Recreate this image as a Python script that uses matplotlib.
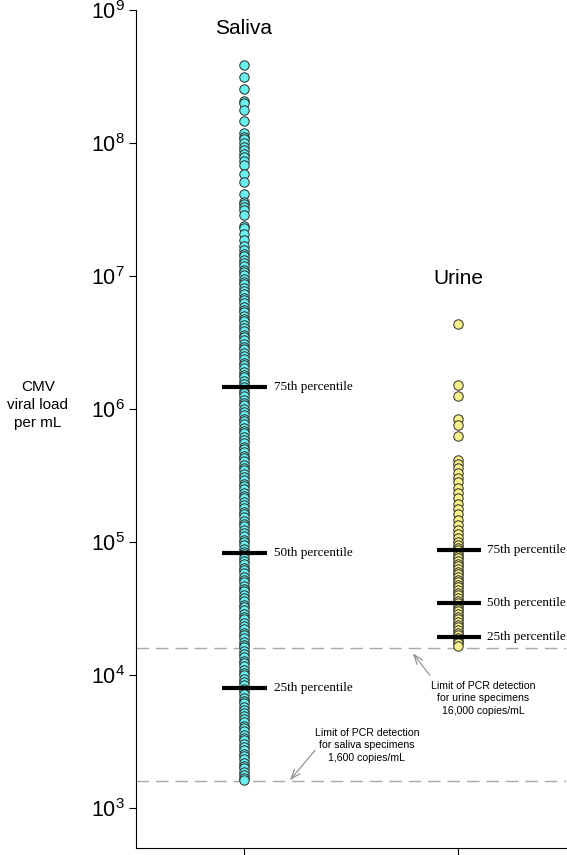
import numpy as np
import matplotlib
matplotlib.use("Agg")
import matplotlib.pyplot as plt

plt.rcParams['font.family'] = ['Liberation Sans', 'DejaVu Sans']

# log10 of viral load per mL
saliva_log = [
    8.59, 8.50, 8.41, 8.32, 8.30, 8.25, 8.17, 8.08, 8.05, 8.03, 8.00, 7.97,
    7.95, 7.92, 7.90, 7.87, 7.84, 7.77, 7.71, 7.62, 7.56, 7.54, 7.52, 7.50,
    7.46, 7.38, 7.36, 7.32, 7.27, 7.23, 7.20,
    7.17, 7.15, 7.12, 7.10, 7.08, 7.05, 7.03, 7.01, 6.98, 6.96, 6.94, 6.91,
    6.89, 6.87, 6.84, 6.82, 6.80, 6.77, 6.75, 6.73, 6.70, 6.68, 6.66, 6.63,
    6.61, 6.59, 6.56, 6.54, 6.52, 6.49, 6.47, 6.45, 6.42, 6.40, 6.38, 6.35,
    6.33, 6.31, 6.28, 6.26, 6.24, 6.21, 6.19, 6.17, 6.14, 6.12, 6.10, 6.07,
    6.05, 6.03, 6.00, 5.98, 5.96, 5.93, 5.91, 5.89, 5.86, 5.84, 5.82, 5.79,
    5.77, 5.75, 5.72, 5.70, 5.68, 5.65, 5.63, 5.61, 5.58, 5.56, 5.54, 5.51,
    5.49, 5.47, 5.44, 5.42, 5.40, 5.37, 5.35, 5.33, 5.30, 5.28, 5.26, 5.23,
    5.21, 5.19, 5.16, 5.14, 5.12, 5.09, 5.07, 5.05, 5.02, 5.00, 4.98, 4.95,
    4.93, 4.91, 4.88, 4.86, 4.84, 4.81, 4.79, 4.77, 4.74, 4.72, 4.70, 4.67,
    4.65, 4.63, 4.60, 4.58, 4.56, 4.53, 4.51, 4.49, 4.46, 4.44, 4.42, 4.39,
    4.37, 4.35, 4.32, 4.30, 4.28, 4.25, 4.23, 4.21, 4.18, 4.16, 4.14, 4.11,
    4.09, 4.07, 4.04, 4.02, 4.00, 3.97, 3.95, 3.93, 3.90, 3.88, 3.86, 3.83,
    3.81, 3.79, 3.76, 3.74, 3.72, 3.69, 3.67, 3.65, 3.62, 3.60, 3.58, 3.55,
    3.53, 3.51, 3.48, 3.46, 3.44, 3.41, 3.39, 3.37, 3.34, 3.32, 3.30, 3.27,
    3.25, 3.23, 3.21,
]
urine_log = [
    6.64, 6.18, 6.10, 5.93, 5.88, 5.80, 5.62, 5.59,
    5.56, 5.52, 5.48, 5.45, 5.41, 5.37, 5.33, 5.29, 5.25, 5.21, 5.17, 5.13,
    5.09, 5.06, 5.03, 5.00, 4.98, 4.96, 4.94, 4.92, 4.90, 4.88, 4.86, 4.84,
    4.82, 4.80, 4.78, 4.76, 4.74, 4.72, 4.70, 4.68, 4.66, 4.64, 4.62, 4.60,
    4.58, 4.56, 4.54, 4.52, 4.50, 4.48, 4.46, 4.44, 4.42, 4.40, 4.38, 4.36,
    4.34, 4.32, 4.30, 4.28, 4.26, 4.24, 4.22,
]
groups = ["Saliva", "Urine"]
saliva_pct = [8.0e3, 8.3e4, 1.46e6]
urine_pct = [1.93e4, 3.5e4, 8.7e4]
pct_labels = ["25th percentile", "50th percentile", "75th percentile"]
limits = [1600, 16000]

saliva = 10 ** np.array(saliva_log)
urine = 10 ** np.array(urine_log)

fig = plt.figure(figsize=(5.67, 8.55), dpi=100)
ax = fig.add_axes([0.24, 0.008, 0.758, 0.98])

ax.set_yscale('log')
ax.set_ylim(10 ** 2.7, 1e9)
ax.set_xlim(0.5, 2.5)

for lim in limits:
    ax.axhline(lim, color='#a8a8a8', lw=1.0, dashes=(9, 5), zorder=1)

ax.scatter(np.full(len(saliva), 1.0), saliva, s=46, c='#66f0f0',
           edgecolors='#2a2a2a', linewidths=0.7, zorder=3)
ax.scatter(np.full(len(urine), 2.0), urine, s=46, c='#f8f08a',
           edgecolors='#2a2a2a', linewidths=0.7, zorder=3)

for v, lab in zip(saliva_pct, pct_labels):
    ax.plot([0.9, 1.11], [v, v], color='black', lw=3, zorder=4,
            solid_capstyle='butt')
    ax.text(1.14, v, lab, family='Liberation Serif', fontsize=9.5,
            va='center', ha='left')
for v, lab in zip(urine_pct, pct_labels):
    ax.plot([1.9, 2.105], [v, v], color='black', lw=3, zorder=4,
            solid_capstyle='butt')
    ax.text(2.135, v, lab, family='Liberation Serif', fontsize=9.5,
            va='center', ha='left')

ax.text(1.0, 10 ** 8.86, groups[0], ha='center', va='center', fontsize=15)
ax.text(2.0, 10 ** 6.98, groups[1], ha='center', va='center', fontsize=15)

ax.text(1.574, 10 ** 3.474,
        "Limit of PCR detection\nfor saliva specimens\n1,600 copies/mL",
        ha='center', va='center', fontsize=7.6, linespacing=1.3)
ax.annotate("", xy=(1.216, 10 ** 3.211), xytext=(1.333, 10 ** 3.436),
            arrowprops=dict(arrowstyle='->,head_length=0.7,head_width=0.25',
                            color='#8a8a8a', lw=0.8, shrinkA=0, shrinkB=0))
ax.text(2.114, 10 ** 3.827,
        "Limit of PCR detection\nfor urine specimens\n16,000 copies/mL",
        ha='center', va='center', fontsize=7.6, linespacing=1.3)
ax.annotate("", xy=(1.788, 10 ** 4.165), xytext=(1.867, 10 ** 4.0),
            arrowprops=dict(arrowstyle='->,head_length=0.7,head_width=0.25',
                            color='#8a8a8a', lw=0.8, shrinkA=0, shrinkB=0))

fig.text(0.067, 0.526, "CMV\nviral load\nper mL", ha='center', va='center',
         fontsize=11, linespacing=1.35)

ax.spines['top'].set_visible(False)
ax.spines['right'].set_visible(False)
ax.set_xticks([1, 2])
ax.set_xticklabels([])
ax.set_yticks([1e3, 1e4, 1e5, 1e6, 1e7, 1e8, 1e9])
ax.yaxis.set_minor_locator(matplotlib.ticker.NullLocator())
ax.tick_params(axis='y', labelsize=15.5, length=5, width=0.8, pad=3)
ax.tick_params(axis='x', length=5, width=0.8)

fig.savefig("out.png", dpi=100)
